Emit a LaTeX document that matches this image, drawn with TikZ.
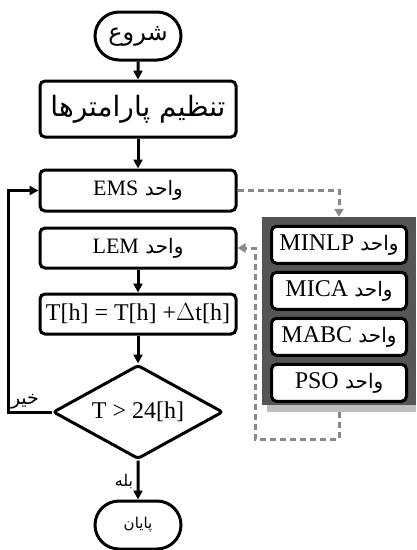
\documentclass[tikz,border=0pt]{standalone}
\usepackage{fontspec}
\setmainfont{Liberation Serif}
\newfontfamily\fa[Script=Arabic]{DejaVu Sans}
\TeXXeTstate=1
\usetikzlibrary{arrows.meta,positioning,shapes.geometric,shapes.misc}
\definecolor{painelcor}{RGB}{85,85,85}
\definecolor{sombracor}{RGB}{190,190,190}
\definecolor{tracejado}{RGB}{136,136,136}
\newcommand{\unidade}[2]{{\fa\fontsize{20}{22}\selectfont\beginR واحد {\rmfamily\fontsize{#2}{#2}\selectfont\beginL #1\endL}\endR}}

\begin{document}
\begin{tikzpicture}[x=1pt,y=1pt,
        node distance=20pt,
        terminal/.style={draw,rounded rectangle,line width=3pt,minimum width=90pt,
                         minimum height=48pt,inner sep=2pt},
        caixa/.style={draw,rounded corners=5pt,line width=3pt,minimum width=196pt,
                      minimum height=40pt,inner sep=2pt,font=\fontsize{22}{24}\selectfont},
        decisao/.style={draw,diamond,aspect=1.8,rounded corners=3pt,line width=3pt,minimum width=170pt,
                        minimum height=94pt,inner sep=0pt,font=\fontsize{24}{26}\selectfont},
        painel/.style={fill=painelcor,minimum width=154pt,minimum height=188pt,inner sep=0pt},
        modulo/.style={draw,fill=white,rounded corners=5pt,line width=3pt,minimum width=135pt,
                       minimum height=37pt,inner sep=2pt,font=\fontsize{24}{26}\selectfont},
        seta/.style={-{Triangle[length=9pt,width=9pt]},line width=3pt},
        tracejada/.style={-{Triangle[length=8pt,width=9pt]},draw=tracejado,line width=3pt,
                          dash pattern=on 6pt off 4pt}]
      \useasboundingbox (0,0) rectangle (416,-550);
      % coluna principal
      \node[terminal] (ini) at (138,-36) {\fa\fontsize{24}{26}\selectfont\beginR شروع\endR};
      \node[caixa,minimum height=56pt,below=18pt of ini] (par) {\fa\fontsize{28}{30}\selectfont\beginR تنظیم پارامترها\endR};
      \node[caixa,minimum height=41pt,below=30pt of par] (ems) {\unidade{EMS}{22}};
      \node[caixa,below=14pt of ems] (lem) {\unidade{LEM}{22}};
      \node[caixa,below=23pt of lem,font=\fontsize{24}{26}\selectfont] (tempo) {T[h] = T[h] +$\Delta$t[h]};
      \node[decisao,below=28pt of tempo] (dec) {T > 24[h]};
      \node[terminal,below=39pt of dec] (fim) {\fa\fontsize{15}{17}\selectfont\beginR پایان\endR};
      % painel dos otimizadores
      \node[painel] (pn) at (339,-311) {};
      \fill[sombracor] ([xshift=5pt]pn.south west) rectangle ([yshift=-7pt]pn.south east);
      \coordinate (sombra) at ([yshift=-7pt]pn.south);
      \node[modulo,below=8pt of pn.north] (m1) {\unidade{MINLP}{24}};
      \node[modulo,below=6pt of m1] (m2) {\unidade{MICA}{24}};
      \node[modulo,below=6pt of m2] (m3) {\unidade{MABC}{24}};
      \node[modulo,below=6pt of m3] (m4) {\unidade{PSO}{24}};
      \coordinate (retorno) at (255,-439);
      % ligacoes
      \draw[seta](ini)--(par);\draw[seta](par)--(ems);\draw[seta](lem)--(tempo);\draw[seta](tempo)--(dec);
      \draw[seta](dec.south)--node[pos=0.55,left]{\fa\fontsize{16}{18}\selectfont\beginR بله\endR}(fim);
      \draw[seta](dec.west)-|node[pos=0.5,above right,inner sep=1pt]{\fa\fontsize{19}{21}\selectfont\beginR خیر\endR}([xshift=-30pt]ems.west)--(ems.west);
      \draw[tracejada](ems.east)-|(pn.north);
      \draw[tracejada](sombra)|-(retorno)|-(lem.east);
    \end{tikzpicture}
\end{document}
